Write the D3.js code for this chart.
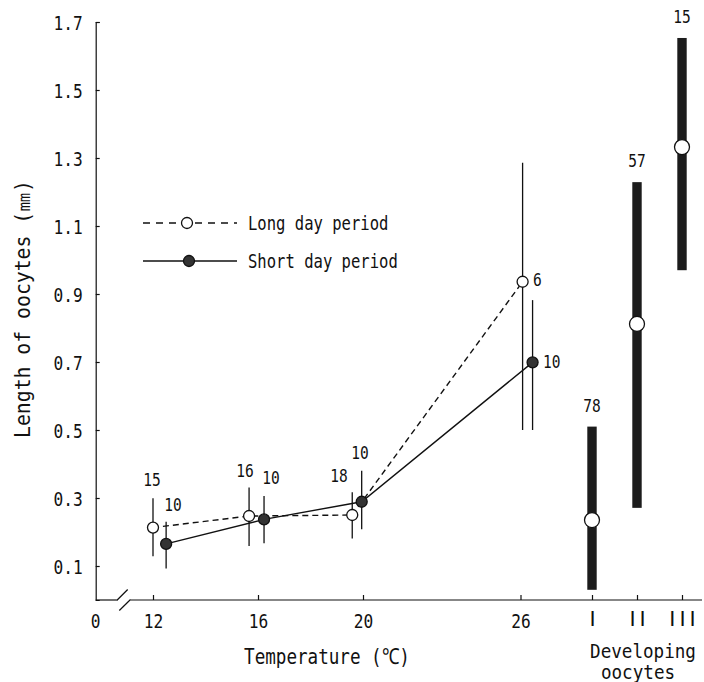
<!DOCTYPE html>
<html>
<head>
<meta charset="utf-8">
<script src="https://cdn.jsdelivr.net/npm/d3@7"></script>
<style>
  body { margin: 0; background: #fff; }
  svg { display: block; }
  text { font-family: "DejaVu Sans Mono", "Liberation Mono", monospace; fill: #111; }
</style>
</head>
<body>
<svg id="chart" width="704" height="682"></svg>
<script>
// temperature experiment: plotted x (°C, slightly dodged as in the figure)
const tempTicks = [12, 16, 20, 26];

const longX    = [12.0, 15.66, 19.59, 26.08];
const longMean = [0.213, 0.247, 0.250, 0.936];
const longLow  = [0.129, 0.159, 0.181, 0.500];
const longHigh = [0.299, 0.331, 0.317, 1.286];
const longN    = [15, 16, 18, 6];

const shortX    = [12.5, 16.23, 19.95, 26.46];
const shortMean = [0.165, 0.237, 0.289, 0.699];
const shortLow  = [0.093, 0.167, 0.208, 0.500];
const shortHigh = [0.230, 0.306, 0.380, 0.882];
const shortN    = [10, 10, 10, 10];

// developing oocytes, stage I-III
const stages    = ["I", "II", "III"];
const stageMean = [0.235, 0.812, 1.332];
const stageLow  = [0.030, 0.271, 0.970];
const stageHigh = [0.510, 1.229, 1.653];
const stageN    = [78, 57, 15];

const yTicks = [0.1, 0.3, 0.5, 0.7, 0.9, 1.1, 1.3, 1.5, 1.7];

const svg = d3.select("#chart");
const X0 = 95.7, Y0 = 600;

const x = d3.scaleLinear().domain([12, 26]).range([153, 520.5]);
const xs = d3.scalePoint().domain(stages).range([592, 682]);
const y = d3.scaleLinear().domain([0, 1.7]).range([Y0, 22]);

const INK = "#111";

// squeezed monospace text, like the half-width gothic of the original
function label(parent, px, py, s, size, sx, anchor = "middle", rot = 0) {
  const g = parent.append("g").attr("transform", `translate(${px},${py}) rotate(${rot})`);
  g.append("text")
    .attr("transform", `scale(${sx},1)`)
    .attr("text-anchor", anchor)
    .attr("dominant-baseline", "central")
    .attr("font-size", size)
    .text(s);
  return g;
}

function squeezeAxisText(g, sx, size) {
  g.selectAll(".tick text").each(function () {
    const t = d3.select(this);
    const tx = +t.attr("x") || 0;
    const ty = +t.attr("y") || 0;
    t.attr("x", 0).attr("y", 0).attr("dy", null)
      .attr("dominant-baseline", "central")
      .attr("transform", `translate(${tx},${ty}) scale(${sx},1)`)
      .attr("font-size", size)
      .attr("font-family", null)
      .attr("fill", INK);
  });
  g.selectAll("line, path").attr("stroke", INK).attr("stroke-width", 1.2);
}

// y axis
const gy = svg.append("g").attr("transform", `translate(${X0},0)`)
  .call(d3.axisLeft(y).tickValues(yTicks).tickSizeInner(-4).tickSizeOuter(-4)
    .tickPadding(13).tickFormat(d3.format(".1f")));
squeezeAxisText(gy, 0.83, 19.5);

// x axis with break
const gx = svg.append("g").attr("transform", `translate(0,${Y0})`)
  .call(d3.axisBottom(x).tickValues(tempTicks).tickSizeInner(-5).tickSizeOuter(0).tickPadding(0));
gx.select(".domain").remove();
gx.selectAll(".tick text").attr("y", 21);
squeezeAxisText(gx, 0.83, 19.5);

// stage axis: roman numerals drawn as plain bars
const gs = svg.append("g").attr("transform", `translate(0,${Y0})`)
  .call(d3.axisBottom(xs).tickSizeInner(-5).tickSizeOuter(0).tickPadding(0));
gs.select(".domain").remove();
gs.selectAll("line").attr("stroke", INK).attr("stroke-width", 1.2);
gs.selectAll(".tick text")
  .attr("y", 18).attr("dy", null).attr("dx", 2)
  .attr("dominant-baseline", "central")
  .style("font-family", "'Liberation Sans', Arial, sans-serif")
  .attr("font-size", 22).attr("letter-spacing", 4)
  .attr("fill", INK);

const axisLine = (x1, y1, x2, y2) => svg.append("line")
  .attr("x1", x1).attr("y1", y1).attr("x2", x2).attr("y2", y2)
  .attr("stroke", INK).attr("stroke-width", 1.2);
axisLine(X0, Y0, 116.7, Y0);
axisLine(116.7, Y0 + 0.5, 127.7, Y0 - 10.5);
axisLine(119.3, Y0 + 10.5, 130.5, Y0 - 0.5);
axisLine(130.5, Y0, 702, Y0);

label(svg, X0, 621, "0", 19.5, 0.83);

// titles
label(svg, 327, 657, "Temperature (℃)", 22, 0.8);
label(svg, 643, 651, "Developing", 20, 0.88);
label(svg, 638, 672, "oocytes", 20, 0.88);
label(svg, 23, 309, "Length of oocytes (㎜)", 22, 0.9, "middle", -90);

// error bars
const plot = svg.append("g");
const vbar = (px, lo, hi) => plot.append("line")
  .attr("x1", px).attr("x2", px).attr("y1", y(lo)).attr("y2", y(hi))
  .attr("stroke", INK).attr("stroke-width", 1.3);
longX.forEach((t, i) => vbar(x(t), longLow[i], longHigh[i]));
shortX.forEach((t, i) => vbar(x(t), shortLow[i], shortHigh[i]));

// connecting lines
const line = d3.line().x(d => x(d[0])).y(d => y(d[1]));
plot.append("path").datum(longX.map((t, i) => [t, longMean[i]]))
  .attr("d", line).attr("fill", "none").attr("stroke", INK)
  .attr("stroke-width", 1.4).attr("stroke-dasharray", "6,4");
plot.append("path").datum(shortX.map((t, i) => [t, shortMean[i]]))
  .attr("d", line).attr("fill", "none").attr("stroke", INK).attr("stroke-width", 1.4);

// markers
const openDot = (px, py, r) => plot.append("circle").attr("cx", px).attr("cy", py).attr("r", r)
  .attr("fill", "#fff").attr("stroke", INK).attr("stroke-width", 1.3);
const fillDot = (px, py, r) => plot.append("circle").attr("cx", px).attr("cy", py).attr("r", r)
  .attr("fill", "#333").attr("stroke", INK).attr("stroke-width", 1.3);

longX.forEach((t, i) => openDot(x(t), y(longMean[i]), 5.5));
shortX.forEach((t, i) => fillDot(x(t), y(shortMean[i]), 5.5));

// sample sizes
const nLbl = (px, py, s, anchor) => label(plot, px, py, s, 17.5, 0.83, anchor);
const longLblPos = [[152, 480, "middle"], [245, 471, "middle"], [339, 476, "middle"], [533, 280, "start"]];
const shortLblPos = [[173, 505, "middle"], [271, 478, "middle"], [360, 453, "middle"], [543, 362, "start"]];
longN.forEach((n, i) => nLbl(longLblPos[i][0], longLblPos[i][1], n, longLblPos[i][2]));
shortN.forEach((n, i) => nLbl(shortLblPos[i][0], shortLblPos[i][1], n, shortLblPos[i][2]));

// developing oocyte ranges
stages.forEach((s, i) => {
  plot.append("rect")
    .attr("x", xs(s) - 4.7).attr("width", 9.4)
    .attr("y", y(stageHigh[i])).attr("height", y(stageLow[i]) - y(stageHigh[i]))
    .attr("fill", "#1c1c1c");
  openDot(xs(s), y(stageMean[i]), 7.5);
  label(plot, xs(s), y(stageHigh[i]) - 21, stageN[i], 17.5, 0.83);
});

// legend
const leg = svg.append("g");
leg.append("line").attr("x1", 143).attr("x2", 237).attr("y1", 223).attr("y2", 223)
  .attr("stroke", INK).attr("stroke-width", 1.3).attr("stroke-dasharray", "7,6");
leg.append("circle").attr("cx", 187).attr("cy", 223).attr("r", 5.5)
  .attr("fill", "#fff").attr("stroke", INK).attr("stroke-width", 1.3);
leg.append("line").attr("x1", 143).attr("x2", 237).attr("y1", 261).attr("y2", 261)
  .attr("stroke", INK).attr("stroke-width", 1.3);
leg.append("circle").attr("cx", 189).attr("cy", 261).attr("r", 5.5)
  .attr("fill", "#333").attr("stroke", INK).attr("stroke-width", 1.3);
label(leg, 248, 223, "Long day period", 19.2, 0.81, "start");
label(leg, 248, 261, "Short day period", 19.2, 0.81, "start");
</script>
</body>
</html>
